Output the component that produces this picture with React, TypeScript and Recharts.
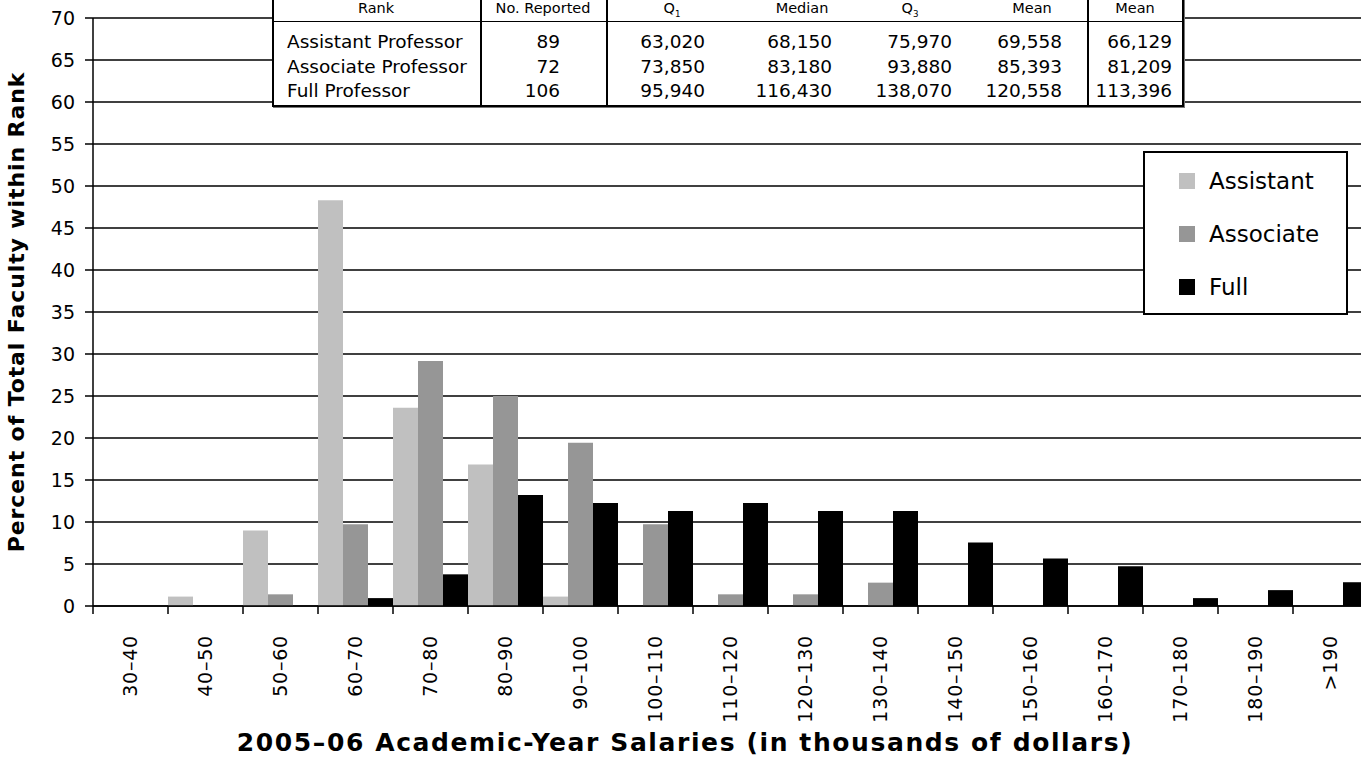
import React from 'react';
import { BarChart, Bar, XAxis, YAxis, CartesianGrid, Legend } from 'recharts';

const categories = ['30–40', '40–50', '50–60', '60–70', '70–80', '80–90', '90–100', '100–110', '110–120', '120–130', '130–140', '140–150', '150–160', '160–170', '170–180', '180–190', '>190'];
const assistant = [0, 1.12, 8.99, 48.31, 23.6, 16.85, 1.12, 0, 0, 0, 0, 0, 0, 0, 0, 0, 0];
const associate = [0, 0, 1.39, 9.72, 29.17, 25.0, 19.44, 9.72, 1.39, 1.39, 2.78, 0, 0, 0, 0, 0, 0];
const full = [0, 0, 0, 0.94, 3.77, 13.21, 12.26, 11.32, 12.26, 11.32, 11.32, 7.55, 5.66, 4.72, 0.94, 1.89, 2.83];
const yTicks = [0, 5, 10, 15, 20, 25, 30, 35, 40, 45, 50, 55, 60, 65, 70];

const seriesKeys = ['assistant', 'associate', 'full'];
const seriesNames = ['Assistant', 'Associate', 'Full'];
const seriesColors = ['#c0c0c0', '#969696', '#000000'];

const tableHeaders = ['Rank', 'No. Reported', 'Q1', 'Median', 'Q3', 'Mean', 'Mean'];
const tableRanks = ['Assistant Professor', 'Associate Professor', 'Full Professor'];
const tableReported = ['89', '72', '106'];
const tableQ1 = ['63,020', '73,850', '95,940'];
const tableMedian = ['68,150', '83,180', '116,430'];
const tableQ3 = ['75,970', '93,880', '138,070'];
const tableMean = ['69,558', '85,393', '120,558'];
const tableMean2 = ['66,129', '81,209', '113,396'];

const data = categories.map((c, i) => ({
  range: c,
  assistant: assistant[i],
  associate: associate[i],
  full: full[i],
}));

const FONT = "'DejaVu Sans', 'Verdana', sans-serif";

const XTick = (props: any) => {
  const { x, y, payload, width, visibleTicksCount } = props;
  const half = width / visibleTicksCount / 2;
  const lx = x - half;
  return (
    <g>
      <line x1={lx} y1={y} x2={lx} y2={y + 8} stroke="#000" strokeWidth={1.5} />
      <text
        x={x}
        y={y + 29}
        transform={`rotate(-90 ${x} ${y + 29})`}
        textAnchor="end"
        dy="0.36em"
        fontSize={19}
        letterSpacing={0.8}
        fontFamily={FONT}
        fill="#000"
      >
        {payload.value}
      </text>
    </g>
  );
};

const LegendBox = () => (
  <div
    style={{
      width: 205,
      height: 164,
      boxSizing: 'border-box',
      border: '2px solid #000',
      background: '#fff',
      position: 'relative',
      fontFamily: FONT,
    }}
  >
    {seriesNames.map((n, i) => (
      <div
        key={n}
        style={{
          position: 'absolute',
          left: 34,
          top: 28 + i * 53 - 14,
          height: 28,
          display: 'flex',
          alignItems: 'center',
        }}
      >
        <div style={{ width: 16, height: 16, background: seriesColors[i], marginRight: 14 }} />
        <span style={{ fontSize: 23, color: '#000', lineHeight: '28px' }}>{n}</span>
      </div>
    ))}
  </div>
);

const centerX = [376, 543, 672, 802, 910, 1032, 1135];
const rightEdges = [560, 705, 832, 952, 1062, 1172];

const txt = (content: React.ReactNode, style: React.CSSProperties, key: string) => (
  <div key={key} style={{ position: 'absolute', whiteSpace: 'nowrap', fontFamily: FONT, color: '#000', ...style }}>
    {content}
  </div>
);

const headerContent = (h: string) => {
  if (h === 'Q1') return <span>Q<sub style={{ fontSize: '0.6em' }}>1</sub></span>;
  if (h === 'Q3') return <span>Q<sub style={{ fontSize: '0.6em' }}>3</sub></span>;
  return h;
};

const StatsTable = () => {
  const cols = [tableReported, tableQ1, tableMedian, tableQ3, tableMean, tableMean2];
  const rowY = [42, 66.5, 91];
  const items: React.ReactNode[] = [];
  items.push(
    <div key="box" style={{ position: 'absolute', left: 272, top: -8, width: 912, height: 115, boxSizing: 'border-box', border: '2px solid #000', background: '#fff', boxShadow: '1px 1px 0 #777' }} />
  );
  items.push(<div key="hl" style={{ position: 'absolute', left: 272, top: 21, width: 912, height: 1, background: '#000' }} />);
  [480, 606, 1087].forEach((vx) =>
    items.push(<div key={'v' + vx} style={{ position: 'absolute', left: vx, top: -8, width: 1.5, height: 115, background: '#000' }} />)
  );
  tableHeaders.forEach((h, i) =>
    items.push(txt(headerContent(h), { left: centerX[i] - 100, width: 200, textAlign: 'center', top: 8 - 10, height: 20, lineHeight: '20px', fontSize: 14.5 }, 'h' + i))
  );
  tableRanks.forEach((r, ri) => {
    items.push(txt(r, { left: 287, top: rowY[ri] - 11, height: 22, lineHeight: '22px', fontSize: 18.5 }, 'r' + ri));
    cols.forEach((col, ci) =>
      items.push(txt(col[ri], { left: rightEdges[ci] - 200, width: 200, textAlign: 'right', top: rowY[ri] - 11, height: 22, lineHeight: '22px', fontSize: 18.5 }, 'c' + ri + '-' + ci))
    );
  });
  return <>{items}</>;
};

export default function App() {
  return (
    <div style={{ position: 'absolute', left: 0, top: 0, width: 1361, height: 757, overflow: 'hidden', background: '#fff' }}>
      <BarChart
        width={1368}
        height={757}
        data={data}
        margin={{ top: 18, right: 0, bottom: 0, left: 0 }}
        barCategoryGap={0}
        barGap={0}
      >
        <CartesianGrid vertical={false} stroke="#000" strokeWidth={1.5} />
        <XAxis
          dataKey="range"
          interval={0}
          height={151}
          tickLine={false}
          tickSize={0}
          tickMargin={0}
          axisLine={{ stroke: '#000', strokeWidth: 1.5 }}
          tick={<XTick />}
        />
        <YAxis
          width={93}
          domain={[0, 70]}
          ticks={yTicks}
          interval={0}
          tickSize={8}
          tickMargin={10}
          axisLine={{ stroke: '#000', strokeWidth: 1.5 }}
          tickLine={{ stroke: '#000', strokeWidth: 1.5 }}
          tick={{ fill: '#000', fontSize: 19, fontFamily: FONT }}
        />
        <Legend
          layout="vertical"
          align="center"
          verticalAlign="middle"
          wrapperStyle={{ position: 'absolute', left: 1143, top: 151, width: 205, height: 164 }}
          content={() => <LegendBox />}
        />
        {seriesKeys.map((k, i) => (
          <Bar key={k} dataKey={k} name={seriesNames[i]} fill={seriesColors[i]} isAnimationActive={false} />
        ))}
      </BarChart>
      <StatsTable />
      <div
        style={{
          position: 'absolute',
          left: 17 - 300,
          top: 312 - 14,
          width: 600,
          height: 28,
          lineHeight: '28px',
          textAlign: 'center',
          transform: 'rotate(-90deg)',
          fontFamily: FONT,
          fontWeight: 'bold',
          fontSize: 22,
          letterSpacing: 0.9,
          color: '#000',
          whiteSpace: 'nowrap',
        }}
      >
        Percent of Total Faculty within Rank
      </div>
      <div
        style={{
          position: 'absolute',
          left: 685 - 600,
          top: 730,
          width: 1200,
          height: 26,
          lineHeight: '26px',
          textAlign: 'center',
          fontFamily: FONT,
          fontWeight: 'bold',
          fontSize: 25,
          letterSpacing: 1.6,
          color: '#000',
          whiteSpace: 'nowrap',
        }}
      >
        2005–06 Academic-Year Salaries (in thousands of dollars)
      </div>
    </div>
  );
}
